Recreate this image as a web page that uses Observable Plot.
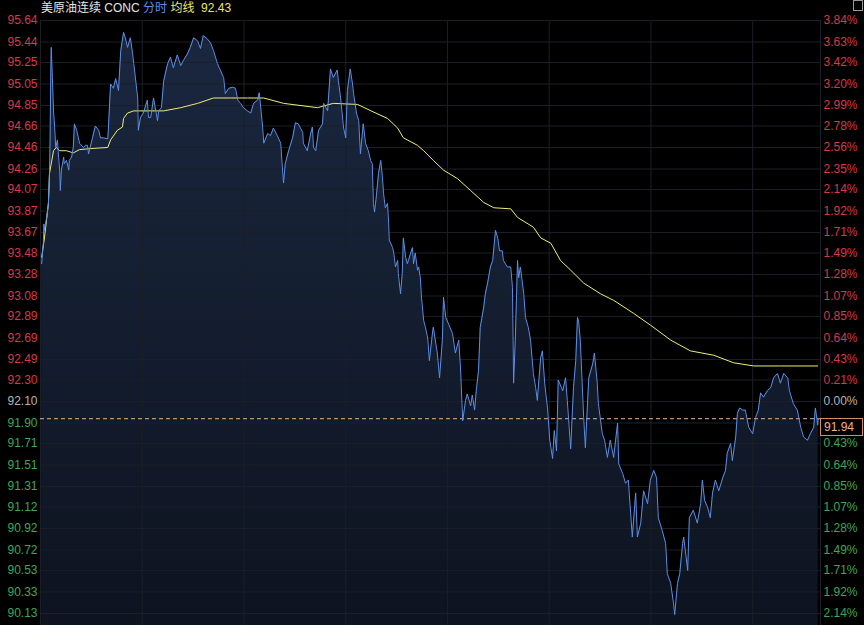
<!DOCTYPE html>
<html><head><meta charset="utf-8">
<script src="https://cdn.jsdelivr.net/npm/d3@7"></script>
<script src="https://cdn.jsdelivr.net/npm/@observablehq/plot@0.6"></script>
<style>
body{margin:0;background:#000;}
#wrap{position:relative;width:864px;height:625px;overflow:hidden;background:#000;}
#hdr{position:absolute;left:41px;top:1px;font:12px "Liberation Sans",Arial,"Noto Sans CJK SC",sans-serif;color:#e4e4e4;white-space:pre;line-height:14px;}
#icon{position:absolute;left:853px;top:0px;width:8px;height:9px;border:1px solid #9a9a9a;}
</style></head><body>
<div id="wrap">
  <div id="hdr"></div>
  <div id="icon"></div>
</div>
<script>
// ---- data ----
const instrument = "美原油连续 CONC";
const modeLabel = "分时";
const avgLabel = "均线";
const avgValueText = "92.43";
const prevSettle = 92.10;
const lastPrice = 91.94;
const sessionMinutes = 1380; // 06:00 -> 05:00 next day
const gridMinutes = [0, 180, 360, 540, 720, 900, 1080, 1260, 1380];

const priceTicks = ["95.64","95.44","95.25","95.05","94.85","94.66","94.46","94.26","94.07","93.87","93.67","93.48","93.28","93.08","92.89","92.69","92.49","92.30","92.10","91.90","91.71","91.51","91.31","91.12","90.92","90.72","90.53","90.33","90.13"];
const pctTicks = ["3.84%","3.63%","3.42%","3.20%","2.99%","2.78%","2.56%","2.35%","2.14%","1.92%","1.71%","1.49%","1.28%","1.07%","0.85%","0.64%","0.43%","0.21%","0.00%","0.21%","0.43%","0.64%","0.85%","1.07%","1.28%","1.49%","1.71%","1.92%","2.14%"];

// [minute since open, price]
const priceSeries = [
[2,93.38],[5,93.57],[6,93.75],[7,93.69],[11,93.81],[14,93.94],[16,94.25],[17,94.53],[18,95.08],[19,95.39],[21,95.11],[23,94.80],[25,94.65],[27,94.46],[30,94.53],[32,94.37],[34,94.25],[35,94.06],[37,94.25],[41,94.37],[42,94.31],[46,94.34],[50,94.25],[51,94.34],[55,94.37],[58,94.46],[60,94.68],[64,94.62],[67,94.55],[69,94.50],[76,94.46],[80,94.48],
[83,94.48],[85,94.40],[92,94.55],[97,94.66],[103,94.62],[106,94.55],[111,94.55],[119,94.54],[120,94.62],[124,95.05],[129,95.01],[133,95.10],[138,94.99],[142,95.36],[147,95.53],[150,95.48],[154,95.39],[159,95.48],[163,95.33],[165,95.24],[172,94.92],[173,94.62],[177,94.74],[182,94.78],[189,94.90],[191,94.74],[195,94.74],[200,94.92],[207,94.71],[209,94.80],[214,94.83],[218,95.08],[225,95.24],[230,95.30],[235,95.20],[242,95.32],[248,95.22],[253,95.27],[260,95.33],[265,95.39],[271,95.48],[278,95.45],[283,95.38],[288,95.50],[295,95.47],[301,95.43],[306,95.36],[313,95.24],[318,95.18],[324,95.11],[327,94.96],[333,95.01],[340,95.02],[345,95.01],[349,94.90],[354,94.87],[359,94.83],[366,94.80],[372,94.78],[377,94.87],[384,94.90],[387,94.97],[393,94.65],[395,94.50],[402,94.59],[407,94.57],[412,94.64],[419,94.57],[425,94.50],
[428,94.27],[430,94.13],[433,94.31],[439,94.43],[446,94.55],[451,94.69],[456,94.68],[464,94.60],[465,94.50],[472,94.43],[478,94.59],[481,94.65],[483,94.46],[487,94.43],[492,94.62],[499,94.68],[501,94.87],[508,94.80],[513,95.19],[518,95.11],[525,95.18],[527,95.08],[531,94.92],[536,94.65],[540,94.55],[543,94.99],[548,95.19],[552,95.05],[554,94.96],[559,94.78],[563,94.71],[566,94.40],[571,94.68],[575,94.50],[580,94.43],[584,94.34],
[587,94.31],[589,93.94],[591,93.86],[594,94.00],[598,94.22],[602,94.34],[605,94.18],[607,94.03],[610,93.90],[614,93.94],[616,93.75],[617,93.60],[623,93.53],[625,93.48],[628,93.35],[632,93.41],[633,93.29],[637,93.10],[640,93.29],[642,93.62],[646,93.44],[649,93.38],[651,93.41],[655,93.48],[658,93.53],[660,93.38],[663,93.48],[667,93.32],[669,93.35],[672,93.25],[674,93.07],[678,92.85],[681,92.79],[685,92.69],
[688,92.48],[694,92.76],[695,92.79],[702,92.55],[706,92.32],[711,92.67],[713,93.07],[717,92.88],[722,92.82],[729,92.73],[734,92.55],[740,92.67],[743,92.42],[747,91.92],[752,92.11],[755,92.17],[761,92.06],[764,92.16],[768,92.02],[771,92.20],[775,92.39],[778,92.79],[784,92.97],[787,93.10],[791,93.20],[796,93.35],[800,93.41],[805,93.69],[809,93.62],[812,93.50],[817,93.50],[819,93.41],[826,93.35],[832,93.35],[835,93.16],[837,92.27],[840,92.67],[844,93.41],[846,93.25],[849,93.35],[855,93.10],[858,92.88],[863,92.79],[867,92.67],[872,92.36],[876,92.23],[879,92.11],[885,92.51],[888,92.57],[892,92.27],[897,92.04],[901,91.74],[906,91.57],[909,91.83],[913,91.64],[916,92.30],[924,92.20],[929,92.32],[932,92.11],[938,91.66],[943,92.23],[947,92.48],[950,92.88],[952,92.85],[955,92.67],
[961,91.95],[964,91.67],[970,92.32],[977,92.45],[980,92.55],[985,92.27],[987,92.08],[994,91.80],[998,91.74],[1003,91.58],[1008,91.74],[1014,91.58],[1021,91.90],[1023,91.52],[1030,91.43],[1035,91.34],[1040,91.37],[1047,90.84],[1053,91.25],[1056,90.84],[1062,90.97],[1067,91.27],[1074,91.15],[1079,91.37],[1085,91.46],[1090,91.39],[1093,91.02],[1100,90.90],[1106,90.78],[1109,90.50],[1115,90.41],[1120,90.22],[1122,90.12],[1127,90.41],[1131,90.50],[1136,90.78],[1138,90.84],[1145,90.53],[1148,91.02],[1155,91.09],[1162,90.97],[1168,91.15],[1171,91.37],[1175,91.18],[1180,91.12],[1185,91.02],[1189,91.25],[1194,91.37],[1200,91.27],[1207,91.39],[1212,91.46],[1215,91.62],[1221,91.71],[1224,91.55],[1230,91.77],[1233,91.99],[1237,92.04],[1242,92.02],[1247,92.02],[1253,91.86],[1260,91.80],[1265,91.95],[1270,92.02],[1274,92.18],[1279,92.14],[1286,92.20],[1292,92.23],[1297,92.32],[1304,92.36],[1309,92.27],[1315,92.36],[1322,92.32],[1325,92.20],[1332,92.08],[1339,92.02],[1345,91.86],[1350,91.77],[1357,91.74],[1362,91.80],[1368,91.86],[1371,92.04],[1375,91.88],[1376,91.94]
];

const avgSeries = [
[2,93.44],[7,93.62],[14,93.94],[16,94.22],[23,94.43],[28,94.46],[34,94.43],[46,94.43],[58,94.41],[69,94.44],[88,94.45],[119,94.46],[124,94.53],[136,94.62],[145,94.65],[147,94.73],[154,94.78],[165,94.80],[218,94.80],[248,94.83],[278,94.87],[306,94.92],[336,94.92],[366,94.92],[395,94.92],[430,94.87],[490,94.83],[518,94.87],[561,94.86],[589,94.79],[614,94.73],[632,94.64],[642,94.55],[667,94.48],[678,94.43],[695,94.34],[713,94.25],[738,94.17],[761,94.06],[784,93.95],[802,93.90],[832,93.89],[844,93.81],[872,93.72],[885,93.62],[903,93.57],[920,93.41],[938,93.32],[961,93.20],[991,93.10],[1014,93.04],[1049,92.92],[1079,92.81],[1115,92.67],[1150,92.57],[1191,92.53],[1226,92.46],[1262,92.43],[1309,92.43],[1375,92.43]
];

// ---- styling ----
const RED = "#d8394b", GREEN = "#3da75a", GREY = "#b4b4b4";
const BLUE = "#5b8fe6", YELLOW = "#eeee7a", GRID = "#1b1f27";
const FONT = '"Liberation Sans", Arial, "Noto Sans CJK SC", sans-serif';

const priceData = priceSeries.map(([t, v]) => ({t, v}));
const avgData = avgSeries.map(([t, v]) => ({t, v}));
const tickData = priceTicks.map((s, i) => ({label: s, pct: pctTicks[i], value: +s}));
const colorFor = v => Math.abs(v - prevSettle) < 1e-6 ? GREY : (v > prevSettle ? RED : GREEN);

const chart = Plot.plot({
  width: 864, height: 625,
  marginLeft: 40, marginRight: 44, marginTop: 20, marginBottom: 12,
  x: {domain: [0, sessionMinutes], axis: null},
  y: {domain: [90.13, 95.64], axis: null},
  color: {type: "identity"},
  style: {background: "#000", fontFamily: FONT, fontSize: "12px", overflow: "hidden"},
  marks: [
    Plot.areaY(priceData, {x: "t", y1: 89.9, y2: "v", fill: "url(#areaGrad)"}),
    Plot.ruleY(tickData, {y: "value", stroke: GRID}),
    Plot.ruleX(gridMinutes, {y1: 89.9, y2: 95.64, stroke: GRID}),
    Plot.ruleY([lastPrice], {stroke: "#efb07e", strokeDasharray: "4,3"}),
    Plot.lineY(avgData, {x: "t", y: "v", stroke: YELLOW, strokeWidth: 1}),
    Plot.lineY(priceData, {x: "t", y: "v", stroke: BLUE, strokeWidth: 1}),
    Plot.text(tickData, {x: 0, y: "value", text: "label", textAnchor: "end", dx: -3, fill: d => colorFor(d.value), fontSize: 12}),
    Plot.text(tickData, {x: sessionMinutes, y: "value", text: "pct", textAnchor: "start", dx: 3, fill: d => colorFor(d.value), fontSize: 12})
  ]
});

const svg = d3.select(chart);
const defs = svg.insert("defs", ":first-child");
const g = defs.append("linearGradient").attr("id", "areaGrad").attr("x1", 0).attr("y1", 0).attr("x2", 0).attr("y2", 1);
g.append("stop").attr("offset", "0%").attr("stop-color", "#1a273f");
g.append("stop").attr("offset", "100%").attr("stop-color", "#0d131f");

// last price box
const yPix = chart.scale("y").apply(lastPrice);
const xPix = chart.scale("x").apply(sessionMinutes);
svg.append("rect").attr("x", xPix + 0.5).attr("y", Math.round(yPix) + 0.5).attr("width", 42).attr("height", 17)
  .attr("fill", "#000").attr("stroke", "#d98b62");
svg.append("text").attr("x", xPix + 4).attr("y", Math.round(yPix) + 9).attr("dy", "0.35em")
  .attr("text-anchor", "start")
  .attr("fill", "#f2b384").attr("font-size", 12).attr("font-family", FONT).text(lastPrice.toFixed(2));

document.getElementById("wrap").appendChild(chart);
chart.style.position = "absolute"; chart.style.left = "0"; chart.style.top = "0";
document.getElementById("hdr").style.zIndex = 2;
document.getElementById("icon").style.zIndex = 2;

const hdr = document.getElementById("hdr");
hdr.innerHTML = `<span>${instrument} </span><span style="color:#5b8fe6">${modeLabel}</span><span> </span><span style="color:#e8e86a">${avgLabel}</span><span style="color:#e8e86a">  ${avgValueText}</span>`;
</script>
</body></html>
